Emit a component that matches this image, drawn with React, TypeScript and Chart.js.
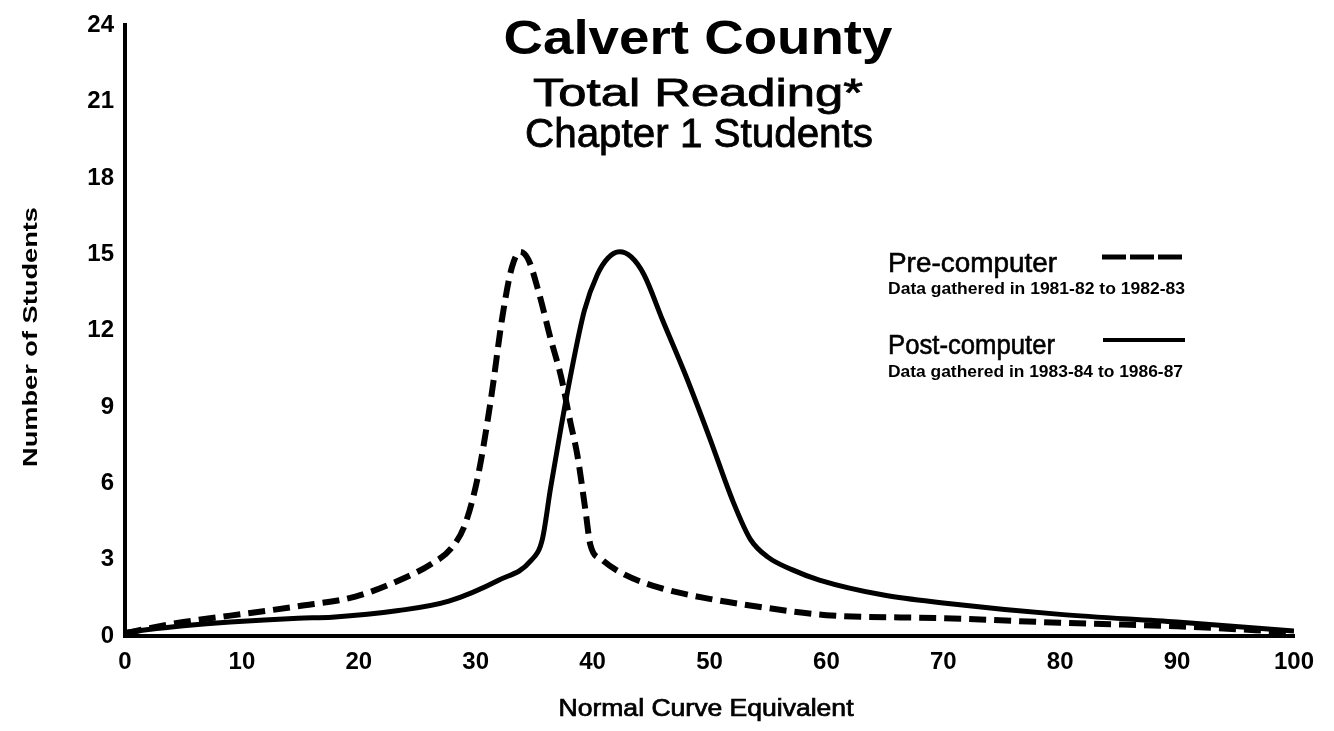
import React, { useEffect, useRef } from "react";
import { Chart, registerables } from "chart.js";

Chart.register(...registerables);

// ---- Data ----
const preX = [0, 2, 5, 9, 14.8, 19.7, 24, 26.2, 27.9, 29.1, 30.2, 31.3, 32.3, 33.1, 33.8, 34.5, 35.4, 36.4, 37.3, 38.1, 38.7, 39.4, 39.8, 40.8, 42.8, 45.7, 50, 54.2, 60, 70, 80, 90, 100];
const preY = [0.1, 0.3, 0.55, 0.8, 1.17, 1.55, 2.3, 2.83, 3.44, 4.4, 6.3, 9.3, 12.6, 14.5, 15.1, 14.8, 13.5, 11.7, 10.2, 8.4, 7.1, 4.9, 3.6, 3.0, 2.4, 1.9, 1.46, 1.15, 0.82, 0.7, 0.52, 0.38, 0.15];

const postX = [0, 5, 9, 14.8, 17.7, 23.4, 27.7, 32, 34.7, 35.7, 36.4, 37.3, 38.1, 39.3, 40.4, 41.3, 42.3, 43.3, 44.4, 46, 48, 50, 52, 53.5, 55, 57.1, 59.4, 65, 70, 80, 90, 100];
const postY = [0.15, 0.4, 0.55, 0.7, 0.74, 1.0, 1.37, 2.2, 2.95, 3.8, 5.8, 8.2, 10.2, 12.8, 14.2, 14.85, 15.1, 14.9, 14.2, 12.4, 10.2, 7.8, 5.3, 3.8, 3.1, 2.6, 2.2, 1.6, 1.3, 0.85, 0.55, 0.2];

const titleLines = ["Calvert County", "Total Reading*", "Chapter 1 Students"];
const seriesNames = ["Pre-computer", "Post-computer"];
const seriesNotes = ["Data gathered in 1981-82 to 1982-83", "Data gathered in 1983-84 to 1986-87"];
const xAxisTitle = "Normal Curve Equivalent";
const yAxisTitle = "Number of Students";

const xMin = 0, xMax = 100, xStep = 10;
const yMin = 0, yMax = 24, yStep = 3;

const SANS = "'Liberation Sans', Arial, sans-serif";

function fitText(
  ctx: CanvasRenderingContext2D,
  text: string,
  x: number,
  y: number,
  width: number,
  font: string,
  align: CanvasTextAlign,
  rotate = 0,
  stroke = 0
) {
  ctx.save();
  ctx.font = font;
  const w = ctx.measureText(text).width;
  const s = width / w;
  ctx.translate(x, y);
  if (rotate) ctx.rotate(rotate);
  ctx.scale(s, 1);
  ctx.textAlign = align;
  ctx.textBaseline = "alphabetic";
  ctx.fillStyle = "#000";
  ctx.fillText(text, 0, 0);
  if (stroke > 0) {
    ctx.strokeStyle = "#000";
    ctx.lineWidth = stroke;
    ctx.strokeText(text, 0, 0);
  }
  ctx.restore();
}

const decorPlugin = {
  id: "decor",
  afterDraw(chart: any) {
    const ctx: CanvasRenderingContext2D = chart.ctx;
    // Title block
    fitText(ctx, titleLines[0], 698, 54, 389, `bold 49px ${SANS}`, "center");
    fitText(ctx, titleLines[1], 698, 106, 330, `38px ${SANS}`, "center", 0, 0.8);
    fitText(ctx, titleLines[2], 699, 147, 348, `40px ${SANS}`, "center", 0, 0.8);

    // Legend
    fitText(ctx, seriesNames[0], 888, 272, 169, `27px ${SANS}`, "left", 0, 0.6);
    fitText(ctx, seriesNotes[0], 888, 294, 297, `bold 16px ${SANS}`, "left");
    fitText(ctx, seriesNames[1], 888, 354, 167, `27px ${SANS}`, "left", 0, 0.6);
    fitText(ctx, seriesNotes[1], 888, 377, 295, `bold 16px ${SANS}`, "left");

    ctx.save();
    ctx.strokeStyle = "#000";
    ctx.lineWidth = 5;
    ctx.setLineDash([24, 4]);
    ctx.beginPath();
    ctx.moveTo(1102, 257);
    ctx.lineTo(1184, 257);
    ctx.stroke();
    ctx.setLineDash([]);
    ctx.lineWidth = 4;
    ctx.beginPath();
    ctx.moveTo(1103, 340);
    ctx.lineTo(1185, 340);
    ctx.stroke();
    ctx.restore();

    // Axis titles
    fitText(ctx, xAxisTitle, 706, 716, 295, `23px ${SANS}`, "center", 0, 0.7);
    fitText(ctx, yAxisTitle, 37, 337, 260, `bold 21px ${SANS}`, "center", -Math.PI / 2);
  },
};

export default function App() {
  const canvasRef = useRef<HTMLCanvasElement | null>(null);

  useEffect(() => {
    document.body.style.margin = "0";
    const canvas = canvasRef.current;
    if (!canvas) return;
    const tickFont = { family: SANS, weight: "bold" as const, size: 24 };
    const chart = new Chart(canvas, {
      type: "line",
      data: {
        datasets: [
          {
            label: seriesNames[0],
            data: preX.map((x, i) => ({ x, y: preY[i] })),
            borderColor: "#000",
            backgroundColor: "#000",
            borderWidth: 6,
            borderDash: [17, 8],
            pointRadius: 0,
            cubicInterpolationMode: "monotone",
            fill: false,
          },
          {
            label: seriesNames[1],
            data: postX.map((x, i) => ({ x, y: postY[i] })),
            borderColor: "#000",
            backgroundColor: "#000",
            borderWidth: 5,
            pointRadius: 0,
            cubicInterpolationMode: "monotone",
            fill: false,
          },
        ],
      },
      options: {
        animation: false,
        responsive: false,
        devicePixelRatio: 1,
        layout: { padding: { top: 22, right: 40, left: 0, bottom: 0 } },
        plugins: {
          legend: { display: false },
          tooltip: { enabled: false },
          title: { display: false },
        },
        scales: {
          x: {
            type: "linear",
            min: xMin,
            max: xMax,
            ticks: {
              stepSize: xStep,
              color: "#000",
              font: tickFont,
              padding: 12,
              maxRotation: 0,
              autoSkip: false,
            },
            grid: { display: false, drawTicks: false },
            border: { display: true, color: "#000", width: 4 },
            afterFit: (s: any) => {
              s.height = 95;
            },
          },
          y: {
            type: "linear",
            min: yMin,
            max: yMax,
            ticks: {
              stepSize: yStep,
              color: "#000",
              font: tickFont,
              padding: 11,
              autoSkip: false,
            },
            grid: { display: false, drawTicks: false },
            border: { display: true, color: "#000", width: 4 },
            afterFit: (s: any) => {
              s.width = 125;
            },
          },
        },
      },
      plugins: [decorPlugin],
    } as any);
    return () => chart.destroy();
  }, []);

  return (
    <div style={{ width: 1334, height: 731, background: "#fff" }}>
      <canvas ref={canvasRef} width={1334} height={731} style={{ display: "block" }} />
    </div>
  );
}
